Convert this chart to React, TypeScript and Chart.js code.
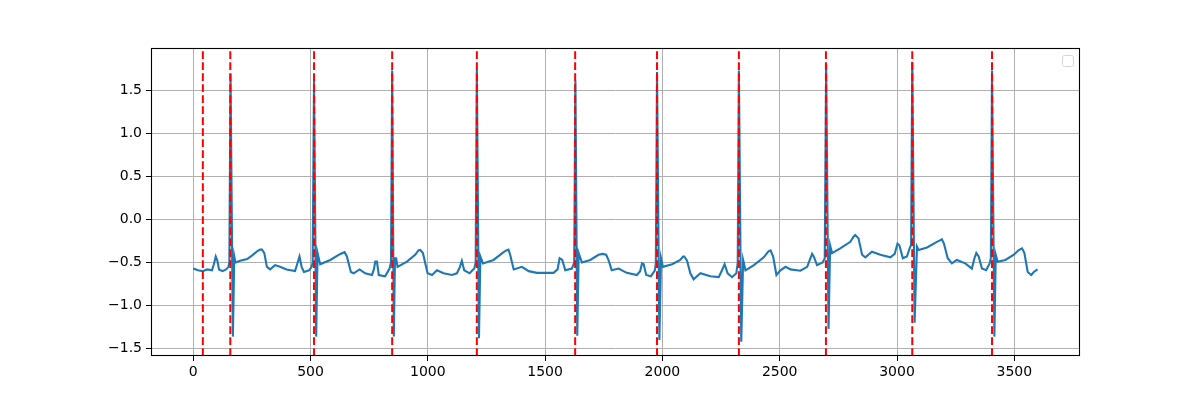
import React, { useEffect, useRef } from "react";
import Chart from "chart.js/auto";

// ECG samples (x = sample index, y = amplitude)
const ecgX: number[] = [
  0, 20, 40, 60, 80, 88, 96, 103, 110, 125, 140, 150, 154, 159, 169, 175, 180, 200, 230, 250, 272, 285, 293, 303, 314, 328, 349, 370, 398, 434, 443, 453, 462, 472, 494, 505, 509,
  515, 524, 530, 541, 584, 627, 645, 655, 672, 684, 709, 733, 762, 770, 776, 783, 791, 818, 837, 843,
  848, 855, 860, 865, 871, 911, 946, 960, 968, 979, 999, 1018, 1039, 1067, 1103, 1124, 1137, 1145, 1155, 1178, 1198, 1204,
  1209, 1218, 1224, 1235, 1280, 1323, 1335, 1344, 1351, 1366, 1401, 1430, 1465, 1536, 1553, 1562, 1573, 1586, 1614, 1624,
  1629, 1637, 1643, 1657, 1692, 1728, 1745, 1760, 1770, 1784, 1813, 1848, 1891, 1905, 1913, 1920, 1931, 1951, 1968, 1972,
  1977, 1987, 1994, 2002, 2041, 2076, 2088, 2093, 2105, 2119, 2133, 2162, 2204, 2240, 2254, 2265, 2278, 2297, 2315, 2321,
  2326, 2336, 2344, 2354, 2390, 2432, 2452, 2461, 2472, 2486, 2503, 2525, 2546, 2588, 2617, 2638, 2645, 2659, 2683, 2692,
  2698, 2708, 2715, 2723, 2758, 2801, 2815, 2822, 2836, 2851, 2865, 2893, 2929, 2972, 2990, 3002, 3010, 3025, 3042, 3056, 3060,
  3065, 3075, 3085, 3092, 3128, 3170, 3185, 3191, 3200, 3216, 3234, 3255, 3291, 3319, 3330, 3338, 3348, 3362, 3380, 3395, 3400,
  3405, 3415, 3421, 3429, 3462, 3498, 3519, 3533, 3543, 3557, 3572, 3583, 3599,
];
const ecgY: number[] = [
  -0.57, -0.59, -0.6, -0.58, -0.59, -0.52, -0.43, -0.48, -0.58, -0.6, -0.58, -0.55, -0.5, 1.69, -1.36, -0.43, -0.5, -0.48, -0.46, -0.42, -0.37, -0.35, -0.35, -0.39, -0.55, -0.58, -0.53, -0.55, -0.58, -0.6, -0.52, -0.43, -0.55, -0.61, -0.59, -0.55, -0.5,
  1.63, -1.36, -0.39, -0.52, -0.47, -0.4, -0.38, -0.43, -0.61, -0.625, -0.58, -0.625, -0.645, -0.58, -0.49, -0.49, -0.645, -0.66, -0.57, -0.5,
  1.73, -1.36, -0.45, -0.45, -0.55, -0.49, -0.41, -0.36, -0.355, -0.39, -0.625, -0.645, -0.59, -0.625, -0.645, -0.625, -0.55, -0.48, -0.59, -0.625, -0.57, -0.5,
  1.74, -1.38, -0.43, -0.51, -0.47, -0.38, -0.36, -0.35, -0.41, -0.58, -0.55, -0.6, -0.62, -0.62, -0.58, -0.45, -0.47, -0.59, -0.57, -0.5,
  1.61, -1.35, -0.39, -0.5, -0.47, -0.41, -0.4, -0.41, -0.47, -0.59, -0.57, -0.62, -0.645, -0.6, -0.51, -0.52, -0.645, -0.66, -0.59, -0.5,
  1.71, -1.4, -0.45, -0.55, -0.52, -0.47, -0.43, -0.43, -0.48, -0.625, -0.695, -0.625, -0.66, -0.67, -0.59, -0.52, -0.625, -0.67, -0.625, -0.5,
  1.73, -1.42, -0.47, -0.59, -0.53, -0.44, -0.37, -0.36, -0.43, -0.645, -0.59, -0.55, -0.58, -0.595, -0.55, -0.4, -0.43, -0.53, -0.5, -0.45,
  1.8, -1.27, -0.3, -0.39, -0.335, -0.26, -0.2, -0.18, -0.22, -0.41, -0.44, -0.375, -0.41, -0.44, -0.4, -0.28, -0.3, -0.45, -0.43, -0.32, -0.3,
  1.83, -1.2, -0.315, -0.355, -0.325, -0.26, -0.24, -0.23, -0.28, -0.45, -0.51, -0.47, -0.51, -0.57, -0.45, -0.39, -0.43, -0.57, -0.59, -0.51, -0.45,
  1.73, -1.36, -0.41, -0.49, -0.47, -0.41, -0.355, -0.335, -0.39, -0.61, -0.645, -0.61, -0.58,
];

// Detected peak markers (red dashed vertical lines)
const peakLines: number[] = [41, 158, 515, 848, 1209, 1628, 1977, 2326, 2697, 3065, 3405];

const xTicks: number[] = [0, 500, 1000, 1500, 2000, 2500, 3000, 3500];
const yTicks: number[] = [-1.5, -1.0, -0.5, 0.0, 0.5, 1.0, 1.5];

const FONT = { family: "DejaVu Sans", size: 14 };

export default function App() {
  const ref = useRef<HTMLCanvasElement | null>(null);

  useEffect(() => {
    document.body.style.margin = "0";
    const canvas = ref.current;
    if (!canvas) return;

    const points = ecgX.map((x, i) => ({ x, y: ecgY[i] }));

    const overlay = {
      id: "overlay",
      afterDatasetsDraw(chart: any) {
        const { ctx, chartArea, scales } = chart;
        ctx.save();
        ctx.beginPath();
        ctx.rect(chartArea.left, chartArea.top, chartArea.right - chartArea.left, chartArea.bottom - chartArea.top);
        ctx.clip();
        ctx.strokeStyle = "#ff0000";
        ctx.lineWidth = 2;
        ctx.setLineDash([7.7, 3.3]);
        for (const v of peakLines) {
          const px = scales.x.getPixelForValue(v);
          ctx.beginPath();
          ctx.moveTo(px, chartArea.bottom);
          ctx.lineTo(px, chartArea.top);
          ctx.stroke();
        }
        ctx.restore();
      },
      afterDraw(chart: any) {
        const { ctx, chartArea } = chart;
        ctx.save();
        ctx.strokeStyle = "#000";
        ctx.lineWidth = 1.1;
        ctx.setLineDash([]);
        ctx.strokeRect(
          Math.round(chartArea.left) + 0.5,
          Math.round(chartArea.top) + 0.5,
          Math.round(chartArea.right - chartArea.left) - 1,
          Math.round(chartArea.bottom - chartArea.top) - 1
        );
        // empty legend frame
        ctx.fillStyle = "rgba(255,255,255,0.8)";
        ctx.strokeStyle = "#d6d6d6";
        ctx.lineWidth = 1;
        ctx.beginPath();
        (ctx as any).roundRect(1062.5, 55.5, 11, 11, 2);
        ctx.fill();
        ctx.stroke();
        ctx.restore();
      },
    };

    const chart = new Chart(canvas, {
      type: "line",
      data: {
        datasets: [
          {
            data: points,
            borderColor: "#1f77b4",
            borderWidth: 2.1,
            pointRadius: 0,
            tension: 0,
            fill: false,
          },
        ],
      },
      options: {
        animation: false,
        responsive: false,
        devicePixelRatio: 1,
        layout: { padding: { left: 0, right: 120, top: 48, bottom: 0 } },
        plugins: { legend: { display: false }, tooltip: { enabled: false } },
        scales: {
          x: {
            type: "linear",
            min: -180,
            max: 3780,
            afterFit: (s: any) => {
              s.height = 44;
            },
            afterBuildTicks: (s: any) => {
              s.ticks = xTicks.map((v) => ({ value: v }));
            },
            ticks: {
              color: "#000",
              font: FONT,
              padding: 3,
              maxRotation: 0,
              autoSkip: false,
              callback: (v: any) => String(v),
            },
            grid: { color: "#b0b0b0", lineWidth: 1, tickColor: "#000", tickLength: 5, drawTicks: true },
            border: { display: false },
          },
          y: {
            type: "linear",
            min: -1.585,
            max: 1.99,
            afterFit: (s: any) => {
              s.width = 151;
            },
            afterBuildTicks: (s: any) => {
              s.ticks = yTicks.map((v) => ({ value: v }));
            },
            ticks: {
              color: "#000",
              font: FONT,
              padding: 4,
              autoSkip: false,
              callback: (v: any) => Number(v).toFixed(1).replace("-", "\u2212"),
            },
            grid: { color: "#b0b0b0", lineWidth: 1, tickColor: "#000", tickLength: 5, drawTicks: true },
            border: { display: false },
          },
        },
      },
      plugins: [overlay],
    } as any);

    return () => chart.destroy();
  }, []);

  return (
    <div style={{ position: "absolute", left: 0, top: 0, width: 1200, height: 400, background: "#fff" }}>
      <canvas ref={ref} width={1200} height={400} style={{ display: "block" }} />
    </div>
  );
}
